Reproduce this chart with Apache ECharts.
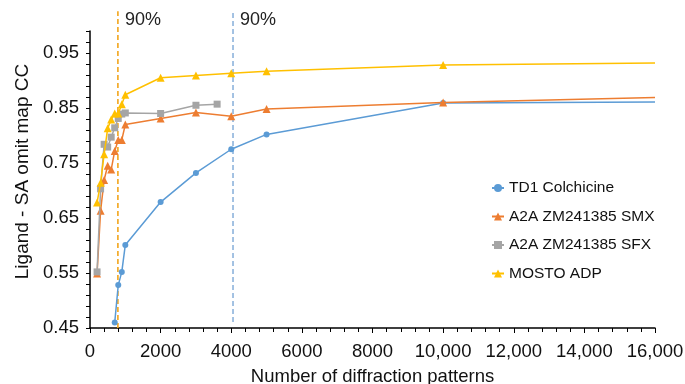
<!DOCTYPE html>
<html>
<head>
<meta charset="utf-8">
<script src="https://cdn.jsdelivr.net/npm/echarts@6/dist/echarts.min.js"></script>
<style>
  html, body { margin: 0; padding: 0; background: #fff; }
  #main { width: 685px; height: 384px; }
</style>
</head>
<body>
<div id="main"></div>
<script>
// number of diffraction patterns vs ligand CC, per data set
const tdPatterns = [700, 800, 900, 1000, 2000, 3000, 4000, 5000, 10000, 16000];
const tdCC = [0.460, 0.528, 0.552, 0.601, 0.679, 0.732, 0.775, 0.802, 0.859, 0.861];

const smxPatterns = [200, 300, 400, 500, 600, 700, 800, 900, 1000, 2000, 3000, 4000, 5000, 10000, 16000];
const smxCC = [0.549, 0.663, 0.719, 0.745, 0.738, 0.772, 0.792, 0.792, 0.820, 0.831, 0.842, 0.835, 0.848, 0.860, 0.869];

const sfxPatterns = [200, 300, 400, 500, 600, 700, 800, 900, 1000, 2000, 3000, 3600];
const sfxCC = [0.552, 0.703, 0.784, 0.779, 0.797, 0.814, 0.831, 0.839, 0.841, 0.840, 0.855, 0.857];

const mostoPatterns = [200, 300, 400, 500, 600, 700, 800, 900, 1000, 2000, 3000, 4000, 5000, 10000, 16000];
const mostoCC = [0.678, 0.714, 0.766, 0.813, 0.829, 0.840, 0.840, 0.857, 0.874, 0.905, 0.909, 0.913, 0.917, 0.928, 0.932];

// 90% markers (patterns, bottom CC, top CC)
const mostoMark = [790, 0.45, 1.026];
const tdMark = [4050, 0.461, 1.026];
const markText = '90%';

const yLabels = [0.45, 0.55, 0.65, 0.75, 0.85, 0.95];
const yTicks = [];
for (let i = 0; i <= 27; i++) yTicks.push(+(0.45 + i * 0.02).toFixed(2));

const font = 'Liberation Sans, Arial, Helvetica, sans-serif';

function pts(xs, ys) {
  return xs.map((x, i) => (x === 16000 ? { value: [x, ys[i]], symbol: 'none' } : [x, ys[i]]));
}

function markLine(m, color) {
  return {
    type: 'line',
    silent: true,
    clip: false,
    symbol: 'none',
    z: 1,
    lineStyle: { color: color, width: 1.6, type: [5, 3] },
    data: [[m[0], m[1]], [m[0], m[2]]]
  };
}

const chart = echarts.init(document.getElementById('main'));

chart.setOption({
  animation: false,
  grid: { left: 90, right: 30, top: 31, bottom: 56, outerBoundsMode: 'none', containLabel: false },
  legend: {
    orient: 'vertical',
    left: 486,
    top: 175,
    itemWidth: 12,
    itemHeight: 10,
    itemGap: 12.5,
    textStyle: { fontSize: 15.5, color: '#111', fontFamily: font },
    data: ['TD1 Colchicine', 'A2A ZM241385 SMX', 'A2A ZM241385 SFX', 'MOSTO ADP']
  },
  xAxis: {
    type: 'value',
    min: 0,
    max: 16000,
    interval: 2000,
    name: 'Number of diffraction patterns',
    nameLocation: 'middle',
    nameGap: 39,
    nameTextStyle: { fontSize: 18.5, color: '#111', fontFamily: font },
    axisLine: { lineStyle: { color: '#000', width: 1.5 } },
    axisTick: { show: true, length: 5, lineStyle: { color: '#000' } },
    minorTick: { show: true, splitNumber: 5, length: 4, lineStyle: { color: '#000' } },
    splitLine: { show: false },
    axisLabel: {
      margin: 14, fontSize: 18.5, color: '#111', fontFamily: font,
      formatter: v => (v >= 10000 ? v.toLocaleString('en-US') : String(v))
    }
  },
  yAxis: {
    type: 'value',
    min: 0.45,
    max: 0.99,
    name: 'Ligand - SA omit map CC',
    nameLocation: 'middle',
    nameGap: 58,
    nameTextStyle: { fontSize: 19, color: '#111', fontFamily: font, padding: [0, 0, 0, 16] },
    axisLine: { show: true, lineStyle: { color: '#000', width: 1.5 } },
    axisTick: { show: true, length: 4, customValues: yTicks, lineStyle: { color: '#000' } },
    splitLine: { show: false },
    axisLabel: {
      margin: 11, fontSize: 18.5, color: '#111', fontFamily: font,
      customValues: yLabels,
      formatter: v => v.toFixed(2)
    }
  },
  series: [
    markLine(mostoMark, '#F2A51C'),
    markLine(tdMark, '#8DB3DC'),
    {
      name: 'TD1 Colchicine', type: 'line', symbol: 'circle', symbolSize: 6, z: 3,
      itemStyle: { color: '#5B9BD5' }, lineStyle: { width: 1.5 },
      data: pts(tdPatterns, tdCC)
    },
    {
      name: 'A2A ZM241385 SMX', type: 'line', symbol: 'triangle', symbolSize: 8, z: 4,
      itemStyle: { color: '#ED7D31' }, lineStyle: { width: 1.5 },
      data: pts(smxPatterns, smxCC)
    },
    {
      name: 'A2A ZM241385 SFX', type: 'line', symbol: 'rect', symbolSize: 7, z: 5,
      itemStyle: { color: '#A5A5A5' }, lineStyle: { width: 1.5 },
      data: pts(sfxPatterns, sfxCC)
    },
    {
      name: 'MOSTO ADP', type: 'line', symbol: 'triangle', symbolSize: 8, z: 6,
      itemStyle: { color: '#FFC000' }, lineStyle: { width: 1.5 },
      data: pts(mostoPatterns, mostoCC)
    }
  ]
});

// "90%" captions next to the top of each dashed marker
const captions = [mostoMark, tdMark].map(m => {
  const p = chart.convertToPixel({ gridIndex: 0 }, [m[0], m[2]]);
  return {
    type: 'text',
    x: p[0] + 7,
    y: p[1] + 9,
    style: {
      text: markText, fontSize: 18, fill: '#222', fontFamily: font,
      verticalAlign: 'middle'
    }
  };
});
chart.setOption({ graphic: captions });
</script>
</body>
</html>
